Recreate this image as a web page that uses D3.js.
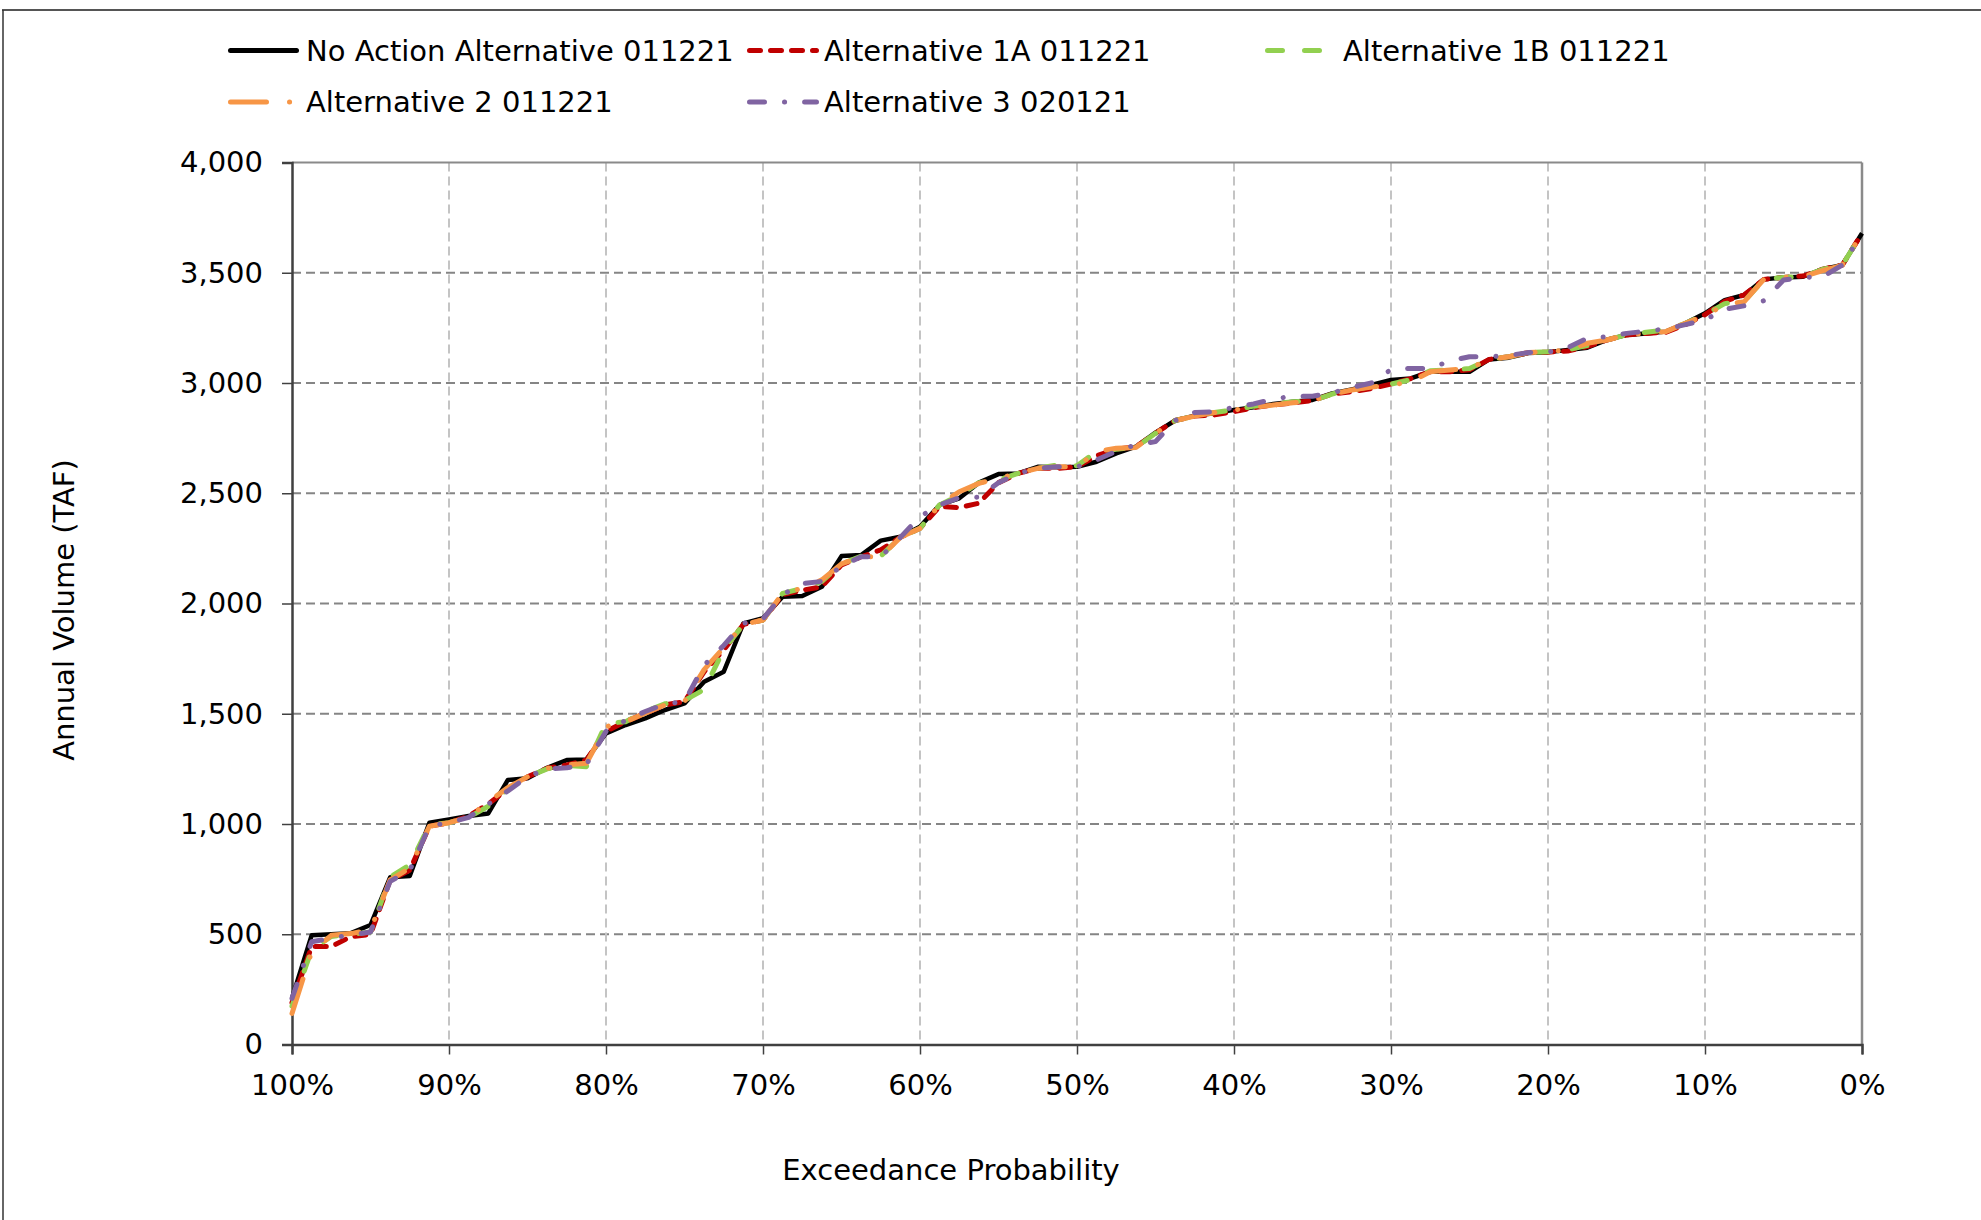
<!DOCTYPE html>
<html>
<head>
<meta charset="utf-8">
<script src="https://cdn.jsdelivr.net/npm/d3@7"></script>
<style>
  body { margin: 0; background: #fff; }
  text { font-family: "DejaVu Sans", Verdana, sans-serif; fill: #000; }
</style>
</head>
<body>
<div id="chart"></div>
<script>
// annual volume (TAF), sorted, 81 years, from 100% down to 0% exceedance
var noAction = [210, 495, 500, 505, 542, 758, 764, 1006, 1021, 1036, 1048, 1200, 1207, 1255, 1290, 1293,
  1411, 1449, 1479, 1517, 1547, 1645, 1691, 1910, 1933, 2031, 2034, 2076, 2215, 2220, 2285, 2303, 2348,
  2447, 2477, 2548, 2587, 2590, 2620, 2618, 2620, 2643, 2681, 2711, 2775, 2830, 2852, 2863, 2878, 2890,
  2905, 2915, 2923, 2953, 2971, 2991, 3014, 3021, 3051, 3051, 3051, 3107, 3115, 3136, 3140, 3150, 3160,
  3195, 3218, 3225, 3233, 3271, 3316, 3376, 3399, 3470, 3479, 3482, 3516, 3535, 3679];
var alt1A = [190, 444, 444, 489, 499, 746, 790, 990, 1006, 1036, 1090, 1160, 1214, 1253, 1268, 1290,
  1420, 1464, 1502, 1540, 1555, 1690, 1790, 1905, 1925, 2040, 2060, 2076, 2175, 2212, 2243, 2300, 2341,
  2440, 2435, 2455, 2548, 2590, 2613, 2613, 2620, 2670, 2700, 2711, 2772, 2830, 2850, 2855, 2870, 2888,
  2900, 2910, 2920, 2950, 2960, 2975, 2995, 3020, 3051, 3051, 3060, 3107, 3119, 3138, 3140, 3145, 3165,
  3195, 3218, 3225, 3230, 3265, 3310, 3370, 3400, 3470, 3479, 3485, 3516, 3535, 3679];
var alt1B = [174, 429, 490, 500, 510, 760, 814, 995, 1006, 1030, 1080, 1160, 1214, 1250, 1265, 1260,
  1456, 1464, 1510, 1545, 1560, 1610, 1790, 1905, 1925, 2046, 2069, 2100, 2180, 2215, 2215, 2300, 2341,
  2447, 2490, 2548, 2560, 2590, 2613, 2628, 2625, 2689, 2700, 2708, 2772, 2830, 2850, 2866, 2878, 2895,
  2905, 2915, 2920, 2950, 2968, 2985, 2995, 3015, 3055, 3059, 3066, 3107, 3119, 3138, 3142, 3150, 3170,
  3195, 3218, 3230, 3240, 3271, 3310, 3360, 3370, 3470, 3479, 3482, 3516, 3535, 3679];
var alt2 = [141, 420, 495, 503, 520, 746, 800, 990, 1006, 1030, 1100, 1165, 1214, 1253, 1268, 1275,
  1441, 1464, 1502, 1540, 1555, 1700, 1800, 1905, 1925, 2046, 2069, 2107, 2180, 2212, 2212, 2300, 2341,
  2447, 2507, 2545, 2568, 2590, 2613, 2620, 2620, 2689, 2704, 2708, 2772, 2830, 2850, 2866, 2878, 2890,
  2900, 2910, 2920, 2950, 2968, 2982, 2991, 3005, 3051, 3059, 3066, 3107, 3119, 3138, 3142, 3150, 3180,
  3195, 3218, 3225, 3233, 3271, 3305, 3354, 3369, 3470, 3479, 3482, 3510, 3535, 3679];
var alt3 = [209, 466, 482, 497, 510, 740, 790, 990, 1006, 1030, 1090, 1150, 1214, 1250, 1255, 1270,
  1420, 1470, 1510, 1545, 1555, 1720, 1810, 1910, 1930, 2040, 2090, 2100, 2170, 2212, 2212, 2300, 2394,
  2447, 2480, 2482, 2548, 2590, 2613, 2620, 2620, 2651, 2690, 2720, 2734, 2830, 2866, 2870, 2890, 2905,
  2927, 2940, 2940, 2955, 2980, 3000, 3061, 3066, 3066, 3100, 3119, 3119, 3125, 3138, 3140, 3160, 3203,
  3210, 3225, 3235, 3245, 3265, 3286, 3334, 3350, 3373, 3467, 3479, 3482, 3535, 3679];

var seriesNames = ["No Action Alternative 011221", "Alternative 1A 011221", "Alternative 1B 011221",
  "Alternative 2 011221", "Alternative 3 020121"];
var seriesValues = [noAction, alt1A, alt1B, alt2, alt3];

var yTicks = [0, 500, 1000, 1500, 2000, 2500, 3000, 3500, 4000];
var xTicks = [1, 0.9, 0.8, 0.7, 0.6, 0.5, 0.4, 0.3, 0.2, 0.1, 0];

// line styles
var colors = ["#000000", "#c00000", "#92d050", "#f79646", "#8064a2"];
var widths = [4.5, 5, 5, 5, 5];
var dashes = [null, "11 10", "15 22", "36 23 0.1 23", "15 20 0.1 20"];

var W = 1981, H = 1220;
var plotL = 292, plotR = 1862, plotT = 162.5, plotB = 1044.5;

var svg = d3.select("#chart").append("svg")
  .attr("width", W).attr("height", H);

// outer frame
svg.append("line").attr("x1", 2).attr("x2", W).attr("y1", 10).attr("y2", 10)
  .attr("stroke", "#555").attr("stroke-width", 2);
svg.append("line").attr("x1", 3).attr("x2", 3).attr("y1", 10).attr("y2", H)
  .attr("stroke", "#333").attr("stroke-width", 1.5);

var x = d3.scaleLinear().domain([1, 0]).range([plotL, plotR]);
var y = d3.scaleLinear().domain([0, 4000]).range([plotB, plotT]);

// gridlines
svg.append("g").selectAll("line")
  .data(yTicks.filter(function(d) { return d > 0 && d < 4000; }))
  .enter().append("line")
  .attr("x1", plotL).attr("x2", plotR)
  .attr("y1", function(d) { return y(d); }).attr("y2", function(d) { return y(d); })
  .attr("stroke", "#858585").attr("stroke-width", 2).attr("stroke-dasharray", "9 5");

svg.append("g").selectAll("line")
  .data(xTicks.filter(function(d) { return d > 0 && d < 1; }))
  .enter().append("line")
  .attr("x1", function(d) { return x(d); }).attr("x2", function(d) { return x(d); })
  .attr("y1", plotT).attr("y2", plotB)
  .attr("stroke", "#c4c4c4").attr("stroke-width", 2).attr("stroke-dasharray", "9 5");

// plot area border (top / right)
svg.append("line").attr("x1", plotL).attr("x2", plotR).attr("y1", plotT).attr("y2", plotT)
  .attr("stroke", "#8a8a8a").attr("stroke-width", 2);
svg.append("line").attr("x1", plotR).attr("x2", plotR).attr("y1", plotT).attr("y2", plotB)
  .attr("stroke", "#8a8a8a").attr("stroke-width", 2.5);

// axes
var yAxis = d3.axisLeft(y).tickValues(yTicks).tickSize(10).tickPadding(19)
  .tickFormat(d3.format(","));
var xAxis = d3.axisBottom(x).tickValues(xTicks).tickSize(10).tickPadding(20)
  .tickFormat(d3.format(".0%"));

var gy = svg.append("g").attr("transform", "translate(" + plotL + ",0)").call(yAxis);
var gx = svg.append("g").attr("transform", "translate(0," + plotB + ")").call(xAxis);

[gx, gy].forEach(function(g) {
  g.select(".domain").attr("stroke", "#404040").attr("stroke-width", 2.5);
  g.selectAll(".tick line").attr("stroke", "#404040").attr("stroke-width", 1.5);
  g.selectAll(".tick text").attr("font-size", 29)
    .attr("font-family", "DejaVu Sans, Verdana, sans-serif").attr("fill", "#000");
});

// axis titles
svg.append("text")
  .attr("transform", "translate(64,610) rotate(-90)")
  .attr("text-anchor", "middle").attr("dy", "0.35em")
  .attr("font-size", 29)
  .text("Annual Volume (TAF)");
svg.append("text")
  .attr("x", 951).attr("y", 1170)
  .attr("text-anchor", "middle").attr("dy", "0.35em")
  .attr("font-size", 29)
  .text("Exceedance Probability");

// series lines
var line = d3.line()
  .x(function(d, i, arr) { return x(1 - i / (arr.length - 1)); })
  .y(function(d) { return y(d); });

svg.append("g").selectAll("path")
  .data(seriesValues)
  .enter().append("path")
  .attr("d", function(d) { return line(d); })
  .attr("fill", "none")
  .attr("stroke", function(d, i) { return colors[i]; })
  .attr("stroke-width", function(d, i) { return widths[i]; })
  .attr("stroke-dasharray", function(d, i) { return dashes[i]; })
  .attr("stroke-linecap", function(d, i) { return i === 0 ? "butt" : "round"; })
  .attr("stroke-linejoin", "round");

// legend
var legX = [228, 747, 1265, 228, 747];
var legLen = [71, 72, 57, 71, 72];
var legY = [50.5, 50.5, 50.5, 102, 102];
var legTextX = [306, 824, 1343, 306, 824];

var leg = svg.append("g").selectAll("g")
  .data(seriesNames)
  .enter().append("g");

leg.append("line")
  .attr("x1", function(d, i) { return legX[i] + 2.5; })
  .attr("x2", function(d, i) { return legX[i] + legLen[i] - 2.5; })
  .attr("y1", function(d, i) { return legY[i]; })
  .attr("y2", function(d, i) { return legY[i]; })
  .attr("stroke", function(d, i) { return colors[i]; })
  .attr("stroke-width", 5)
  .attr("stroke-dasharray", function(d, i) { return dashes[i]; })
  .attr("stroke-linecap", "round");

leg.append("text")
  .attr("x", function(d, i) { return legTextX[i]; })
  .attr("y", function(d, i) { return legY[i]; })
  .attr("dy", "0.35em")
  .attr("font-size", 29)
  .text(function(d) { return d; });
</script>
</body>
</html>
